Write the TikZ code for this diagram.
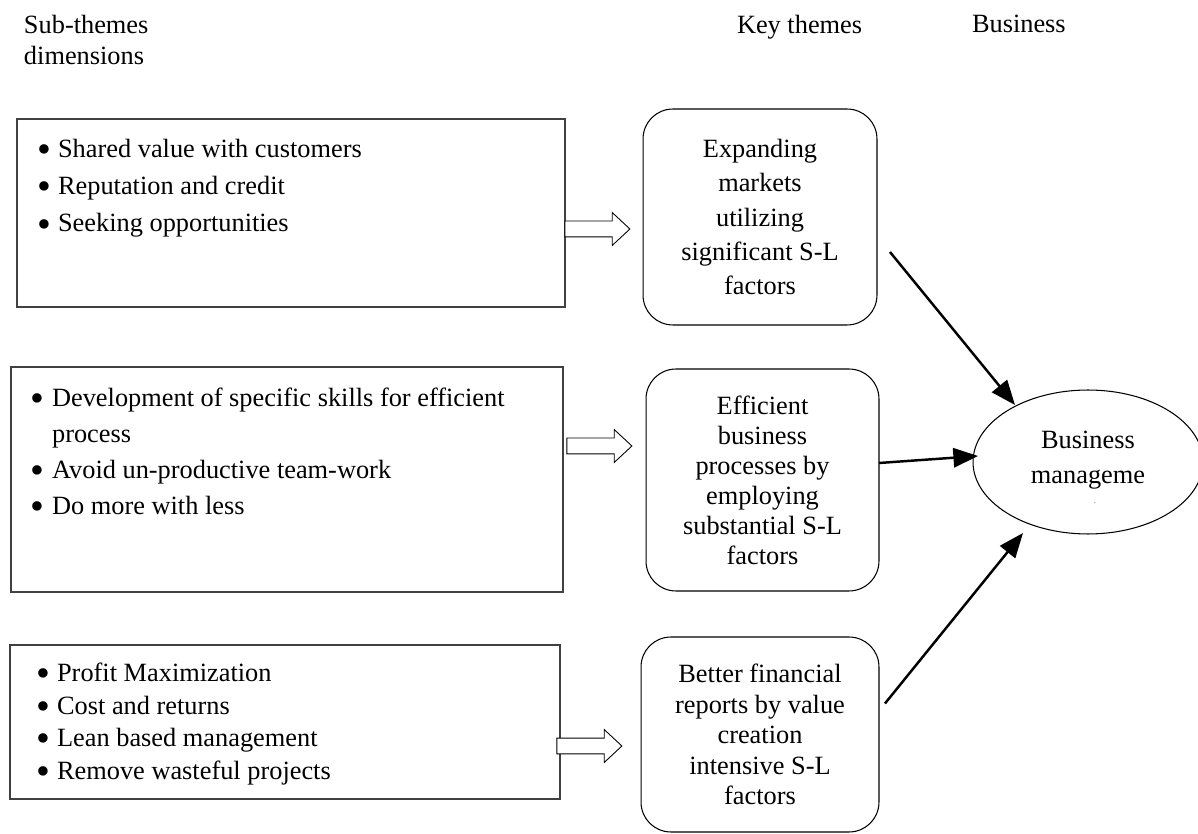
\documentclass[tikz,border=0pt]{standalone}
\usepackage{fontspec}
\setmainfont{Liberation Serif}
\usetikzlibrary{calc,shapes.geometric,shapes.arrows,arrows.meta}
% large round bullet with a fixed hanging indent
\newcommand\bul[1][12pt]{\makebox[#1][l]{\smash{\raisebox{-0.2em}{\scalebox{1.5}{\textbullet}}}}}
\begin{document}
\begin{tikzpicture}[x=0.02cm,y=-0.02cm,
  every node/.style={inner sep=0pt, outer sep=0pt},
  txt/.style={font=\fontsize{15}{20}\selectfont, align=left, anchor=north west},
  listbox/.style={draw=black!75, line width=0.7pt, anchor=north west},
  keybox/.style={draw=black, line width=0.6pt, rounded corners=17pt, align=center},
  hollow/.style={single arrow, draw=black, line width=0.5pt, fill=white,
    single arrow head extend=0.17cm, single arrow tip angle=86,
    minimum height=1.3cm, inner ysep=0.15cm, inner xsep=0pt, anchor=tail},
  link/.style={line width=1.4pt, -{Triangle[length=14pt,width=11pt]}},
]
\useasboundingbox (0,0) rectangle (1198,834);

% column headings
\node[txt, font=\fontsize{15}{17.6}\selectfont] (h1) at (24,15) {Sub-themes\\dimensions};
\node[txt] (h2) at (737,15) {Key themes};
\node[txt] (h3) at (972,15) {Business};

% sub-theme boxes
\node[listbox, minimum width=10.96cm, minimum height=3.76cm] (b1) at (17,119) {};
\node[listbox, minimum width=11.04cm, minimum height=4.5cm] (b2) at (11,367) {};
\node[listbox, minimum width=11cm, minimum height=3.08cm] (b3) at (10,645) {};

\node[txt, font=\fontsize{15}{21.2}\selectfont] (l1) at (37,139)
  {\bul Shared value with customers\\ \bul Reputation and credit\\ \bul Seeking opportunities};
\node[txt, font=\fontsize{15}{20.4}\selectfont] (l2) at (31,388)
  {\bul Development of specific skills for efficient\\ \hspace*{12pt}process\\ \bul Avoid un-productive team-work\\ \bul Do more with less};
\node[txt, font=\fontsize{15}{18.5}\selectfont] (l3) at (36,663)
  {\bul Profit Maximization\\ \bul Cost and returns\\ \bul Lean based management\\ \bul Remove wasteful projects};

% key themes
\node[keybox, minimum width=4.68cm, minimum height=4.32cm, font=\fontsize{15}{19.5}\selectfont] (r1) at (760,217)
  {Expanding\\markets\\utilizing\\significant S-L\\factors};
\node[keybox, minimum width=4.66cm, minimum height=4.44cm, font=\fontsize{15}{17.1}\selectfont] (r2) at (762.5,480)
  {Efficient\\business\\processes by\\employing\\substantial S-L\\factors};
\node[keybox, minimum width=4.76cm, minimum height=3.9cm, font=\fontsize{15}{17.4}\selectfont] (r3) at (760,734.5)
  {Better financial\\reports by value\\creation\\intensive S-L\\factors};

% business management
\node[ellipse, draw=black, line width=0.6pt, minimum width=4.6cm, minimum height=2.88cm] (ell) at (1088,462) {};
\node[font=\fontsize{15}{19.8}\selectfont, align=center, anchor=north] (bm) at (1088,431) {Business\\manageme};
\node[font=\fontsize{4}{4}\selectfont] (bmdot) at (1095,503) {.};

% hollow block arrows
\node[hollow] (a1) at (b1.east |- 0,229) {};
\node[hollow] (a2) at ($(b2.east |- 0,446)+(4,0)$) {};
\node[hollow] (a3) at ($(b3.east |- 0,746)+(-3,0)$) {};

% links to business management
\draw[link] ($(r1.east)+(13,35)$) -- ($(ell.center)+(-73,-57)$);
\draw[link] ($(r2.east)+(0,-17)$) -- ($(ell.center)+(-110,-6)$);
\draw[link] ($(r3.east)+(6,-31)$) -- ($(ell.center)+(-65,71)$);
\end{tikzpicture}
\end{document}
